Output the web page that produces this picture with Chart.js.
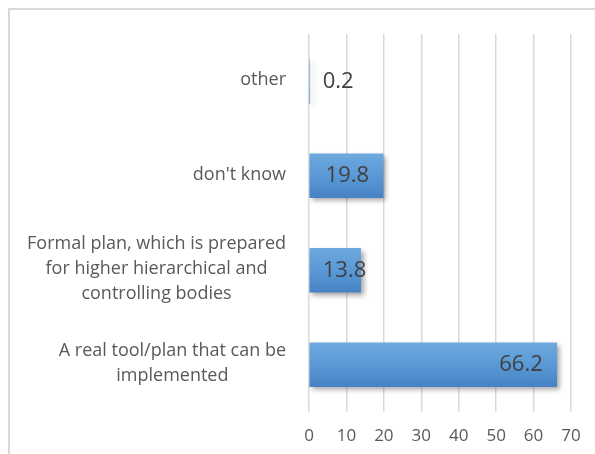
<!DOCTYPE html>
<html>
<head>
<meta charset="utf-8">
<script src="https://cdn.jsdelivr.net/npm/chart.js@4.4.1/dist/chart.umd.min.js"></script>
<style>
  html, body { margin: 0; padding: 0; background: #fff; }
  #wrap { width: 595px; height: 454px; }
</style>
</head>
<body>
<div id="wrap"><canvas id="plan_bar" width="595" height="454"></canvas></div>
<script>
// categories, top to bottom
const categories = [
    ['other'],
    ["don't know"],
    ['Formal plan, which is prepared', 'for higher hierarchical and', 'controlling bodies'],
    ['A real tool/plan that can be', 'implemented']
];
const shares = [0.2, 19.8, 13.8, 66.2];
const xTicks = [0, 10, 20, 30, 40, 50, 60, 70];

const FONT = '"Open Sans", sans-serif';
const TEXT_GREY = '#595959';

// white page with the frame lines on top and left
const framePlugin = {
    id: 'frame',
    beforeDraw(chart) {
        const ctx = chart.ctx;
        ctx.save();
        ctx.fillStyle = '#fff';
        ctx.fillRect(0, 0, chart.width, chart.height);
        ctx.strokeStyle = '#d9d9d9';
        ctx.lineWidth = 2;
        ctx.beginPath();
        ctx.moveTo(9, chart.height);
        ctx.lineTo(9, 9);
        ctx.lineTo(chart.width, 9);
        ctx.stroke();
        ctx.restore();
    }
};

// bars get a soft drop shadow
const shadowPlugin = {
    id: 'barShadow',
    beforeDatasetDraw(chart) {
        const ctx = chart.ctx;
        ctx.save();
        ctx.shadowColor = 'rgba(0,0,0,0.35)';
        ctx.shadowBlur = 5;
        ctx.shadowOffsetX = 3;
        ctx.shadowOffsetY = 3;
    },
    afterDatasetDraw(chart) {
        chart.ctx.restore();
    }
};

// multi-line category labels, lines centred within a right-aligned block
const categoryLabels = {
    id: 'categoryLabels',
    afterDraw(chart) {
        const ctx = chart.ctx;
        const y = chart.scales.y;
        const right = chart.chartArea.left - 23;
        const lineH = 25;
        ctx.save();
        ctx.font = '18px ' + FONT;
        ctx.fillStyle = TEXT_GREY;
        ctx.textAlign = 'center';
        ctx.textBaseline = 'middle';
        categories.forEach((lines, i) => {
            const w = Math.max(...lines.map(l => ctx.measureText(l).width));
            const cx = right - w / 2;
            const cy = y.getPixelForValue(i) - 1;
            lines.forEach((l, k) => {
                ctx.fillText(l, cx, cy + (k - (lines.length - 1) / 2) * lineH);
            });
        });
        ctx.restore();
    }
};

// value labels at the inside end of each bar
const valueLabels = {
    id: 'valueLabels',
    afterDatasetsDraw(chart) {
        const ctx = chart.ctx;
        const meta = chart.getDatasetMeta(0);
        ctx.save();
        ctx.font = '22px ' + FONT;
        ctx.fillStyle = '#404040';
        ctx.textAlign = 'left';
        ctx.textBaseline = 'middle';
        meta.data.forEach((bar, i) => {
            const txt = shares[i].toFixed(1);
            const w = ctx.measureText(txt).width;
            const left = Math.max(bar.x - 14 - w, bar.base + 13);
            ctx.fillText(txt, left, bar.y);
        });
        ctx.restore();
    }
};

function barGradient(context) {
    const chart = context.chart;
    if (!chart.chartArea) return '#5b9bd5';
    const y = chart.scales.y.getPixelForValue(context.dataIndex);
    const g = chart.ctx.createLinearGradient(0, y - 22, 0, y + 22);
    g.addColorStop(0, '#6ea9de');
    g.addColorStop(0.5, '#5a99d6');
    g.addColorStop(1, '#4682c4');
    return g;
}

new Chart(document.getElementById('plan_bar'), {
    type: 'bar',
    data: {
        labels: categories,
        datasets: [{
            data: shares,
            backgroundColor: barGradient,
            borderWidth: 0,
            barThickness: 44
        }]
    },
    options: {
        indexAxis: 'y',
        responsive: false,
        animation: false,
        layout: { padding: { top: 34, right: 24, bottom: 0, left: 0 } },
        plugins: { legend: { display: false }, tooltip: { enabled: false } },
        scales: {
            x: {
                min: 0,
                max: 70,
                afterBuildTicks(scale) {
                    scale.ticks = xTicks.map(v => ({ value: v }));
                },
                afterFit(scale) { scale.height = 42; },
                grid: { color: '#d9d9d9', lineWidth: 1.5, drawTicks: false },
                border: { display: false },
                ticks: { color: TEXT_GREY, font: { family: FONT, size: 17 }, padding: 14 }
            },
            y: {
                afterFit(scale) { scale.width = 309; },
                grid: { display: false },
                border: { display: false },
                ticks: { display: false }
            }
        }
    },
    plugins: [framePlugin, shadowPlugin, categoryLabels, valueLabels]
});
</script>
</body>
</html>
